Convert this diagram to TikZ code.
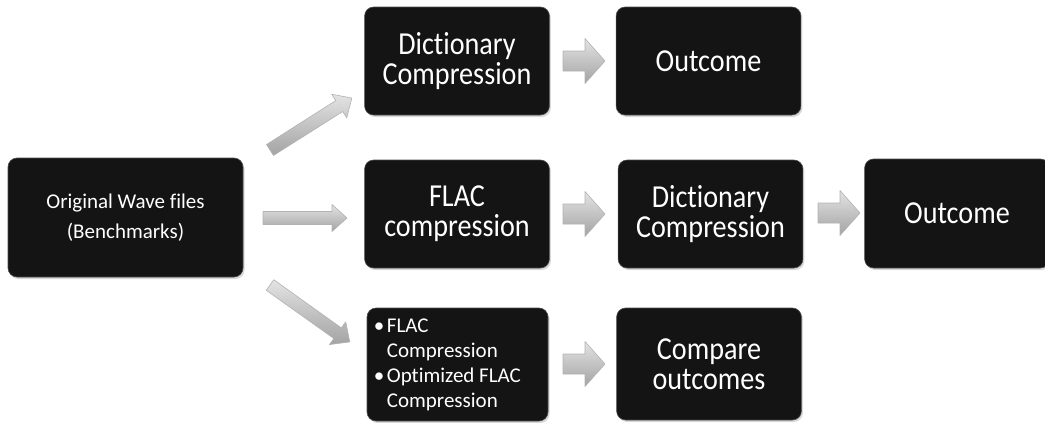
\documentclass[tikz,border=0pt]{standalone}
\usepackage{fontspec}
\setmainfont[Ligatures=NoCommon]{Carlito}
\usetikzlibrary{shadows}
\tikzset{
  box/.style={rounded corners=9pt, fill=black!92, draw=black!70, line width=0.6pt,
    text=white, minimum width=181pt, minimum height=108pt, inner sep=0pt, align=center,
    drop shadow={opacity=0.3, shadow xshift=1.5pt, shadow yshift=-2pt}},
  arrowfill/.style={top color=gray!22, bottom color=gray!72, draw=gray!60, line width=0.6pt, line join=round}
}
\newcommand\bigtext[1]{\scalebox{0.88}[1]{\parbox{210pt}{\centering\fontsize{32}{30}\selectfont #1}}}
% #1 start coordinate, #2 angle, #3 length, #4 body width, #5 head width, #6 head length
\newcommand\blockarr[6]{%
  \begin{scope}[shift={(#1)}, rotate=#2]
    \path[arrowfill] (0,{#4/2}) -- ({#3-#6},{#4/2}) -- ({#3-#6},{#5/2}) -- (#3,0)
      -- ({#3-#6},{-#5/2}) -- ({#3-#6},{-#4/2}) -- (0,{-#4/2}) -- cycle;
  \end{scope}}
\begin{document}
\begin{tikzpicture}[x=1pt,y=-1pt]
\useasboundingbox (0,0) rectangle (1045,423);
% boxes
\node[box, minimum width=235pt, minimum height=119pt, font=\fontsize{21}{30}\selectfont] (orig) at (125.5,217.5)
  {Original Wave files\\(Benchmarks)};
\node[box] (dict1) at (457,61) {\bigtext{Dictionary\\Compression}};
\node[box] (out1) at (708.5,61) {\bigtext{Outcome}};
\node[box] (flac) at (457,214) {\bigtext{FLAC\\compression}};
\node[box] (dict2) at (710.5,214) {\bigtext{Dictionary\\Compression}};
\node[box, minimum width=166pt, minimum height=109pt] (out2) at (957,213.5) {\bigtext{Outcome}};
\node[box, minimum height=113pt] (bul) at (457.5,364.5) {};
\node[text=white, align=left, anchor=west, inner sep=0pt, font=\fontsize{21}{25}\selectfont] (bultext) at ([xshift=7pt]bul.west)
  {\makebox[13pt][l]{•}FLAC\\\hspace*{13pt}Compression\\\makebox[13pt][l]{•}Optimized FLAC\\\hspace*{13pt}Compression};
\node[box, minimum height=112pt] (cmp) at (709,364) {\bigtext{Compare\\outcomes}};
% arrow anchor coordinates
\coordinate (a1) at (270,150);
\coordinate (a2) at (263,218);
\coordinate (a3) at (270,285);
\coordinate (s1) at (563,61);
\coordinate (s2) at (563,214);
\coordinate (s3) at (818,213);
\coordinate (s4) at (563,364);
\blockarr{a1}{32.4}{97}{13}{28}{15}
\blockarr{a2}{0}{84}{13}{27}{15}
\blockarr{a3}{-35.5}{98}{13}{28}{15}
\blockarr{s1}{0}{42}{20}{45}{20}
\blockarr{s2}{0}{42}{20}{45}{20}
\blockarr{s3}{0}{42}{20}{45}{20}
\blockarr{s4}{0}{42}{20}{45}{20}
\end{tikzpicture}
\end{document}
